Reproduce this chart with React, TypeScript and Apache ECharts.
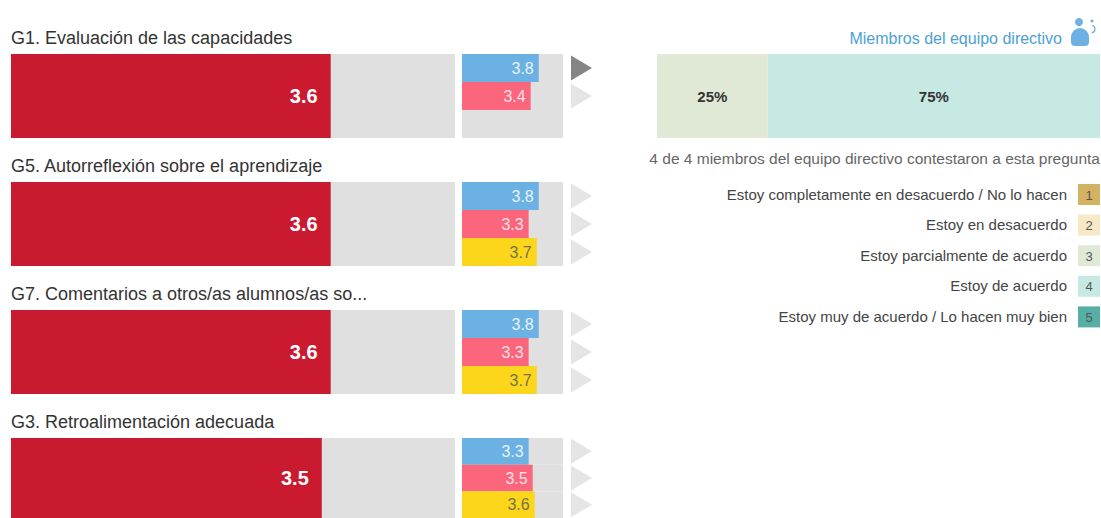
import React, { useEffect, useRef } from "react";
import * as echarts from "echarts";

const titles = [
  "G1. Evaluación de las capacidades",
  "G5. Autorreflexión sobre el aprendizaje",
  "G7. Comentarios a otros/as alumnos/as so...",
  "G3. Retroalimentación adecuada",
];
const mainValues = [3.6, 3.6, 3.6, 3.5];
const blueValues = [3.8, 3.8, 3.8, 3.3];
const pinkValues = [3.4, 3.3, 3.3, 3.5];
const yellowValues: (number | null)[] = [null, 3.7, 3.7, 3.6];
const slotNames = ["a", "b", "c"];
const stackShares = [25, 75];
const stackColors = ["#e0e8d6", "#c6eae3"];
const legendLabels = [
  "Estoy completamente en desacuerdo / No lo hacen",
  "Estoy en desacuerdo",
  "Estoy parcialmente de acuerdo",
  "Estoy de acuerdo",
  "Estoy muy de acuerdo / Lo hacen muy bien",
];
const legendKeys = ["1", "2", "3", "4", "5"];
const legendColors = ["#d4b263", "#f7e9c6", "#e0e8d6", "#c6eae3", "#56aea4"];
const headerLabel = "Miembros del equipo directivo";
const answeredLabel = "4 de 4 miembros del equipo directivo contestaron a esta pregunta";

const FONT = "'Liberation Sans', Arial, sans-serif";
const ROW_TOP = 54;
const ROW_STEP = 128;
const ROW_H = 84;

function buildOption() {
  const grid: any[] = [];
  const xAxis: any[] = [];
  const yAxis: any[] = [];
  const series: any[] = [];
  const addGrid = (left: number, width: number, top: number, height: number, max: number, cats: string[]) => {
    const i = grid.length;
    grid.push({ left, width, top, height, containLabel: false });
    xAxis.push({ type: "value", gridIndex: i, min: 0, max, show: false });
    yAxis.push({ type: "category", gridIndex: i, data: cats, inverse: true, show: false });
    return i;
  };
  titles.forEach((_, r) => {
    const top = ROW_TOP + r * ROW_STEP;
    const g = addGrid(11, 444, top, ROW_H, 5, ["m"]);
    series.push({
      type: "bar", xAxisIndex: g, yAxisIndex: g, data: [mainValues[r]], barWidth: "100%",
      itemStyle: { color: "#c91a30" }, showBackground: true, backgroundStyle: { color: "#e0e0e0" },
      label: { show: true, position: "insideRight", distance: 13, color: "#fff", fontFamily: FONT, fontSize: 20, fontWeight: "bold", formatter: (p: any) => p.value.toFixed(1) },
    });
    const s = addGrid(462, 101, top, ROW_H, 5, slotNames);
    const vals = [blueValues[r], pinkValues[r], yellowValues[r]];
    const cols = ["#6bb1e3", "#fc667c", "#fbd61b"];
    const txt = ["#e8f3fb", "#fde3e7", "#77704a"];
    series.push({
      type: "bar", xAxisIndex: s, yAxisIndex: s, barWidth: "100%",
      data: vals.map((v, k) => ({
        value: v == null ? "-" : v,
        itemStyle: { color: cols[k] },
        label: { color: txt[k] },
      })),
      showBackground: true, backgroundStyle: { color: "#e0e0e0" },
      label: { show: true, position: "insideRight", distance: 5, fontFamily: FONT, fontSize: 16, formatter: (p: any) => p.value.toFixed(1) },
    });
    const t = addGrid(571, 21, top, ROW_H, 1, slotNames);
    series.push({
      type: "scatter", xAxisIndex: t, yAxisIndex: t, symbol: "triangle", symbolRotate: -90, symbolSize: [25, 21],
      data: vals.map((v, k) => v == null ? ["-", k] : ({
        value: [0.5, k],
        itemStyle: { color: r === 0 && k === 0 ? "#666666" : "#dedede" },
      })),
    });
  });
  const st = addGrid(657, 443, ROW_TOP, ROW_H, 100, ["s"]);
  stackShares.forEach((v, k) => {
    series.push({
      type: "bar", stack: "s", xAxisIndex: st, yAxisIndex: st, data: [v], barWidth: "100%",
      itemStyle: { color: stackColors[k] },
      label: { show: true, position: "inside", color: "#333", fontFamily: FONT, fontSize: 15, fontWeight: "bold", formatter: (p: any) => p.value + "%" },
    });
  });

  const graphic: any[] = [];
  titles.forEach((t, r) => {
    graphic.push({ type: "text", x: 11, y: 38 + r * ROW_STEP, style: { text: t, font: `18px ${FONT}`, fill: "#333", textVerticalAlign: "middle" } });
  });
  graphic.push({ type: "text", x: 1062, y: 38, style: { text: headerLabel, font: `16px ${FONT}`, fill: "#4da1d6", textAlign: "right", textVerticalAlign: "middle" } });
  graphic.push({ type: "text", x: 1100, y: 158, style: { text: answeredLabel, font: `15.5px ${FONT}`, fill: "#666", textAlign: "right", textVerticalAlign: "middle" } });
  legendLabels.forEach((l, k) => {
    const y = 184 + k * 30.6;
    graphic.push({ type: "rect", shape: { x: 1078, y, width: 22, height: 21 }, style: { fill: legendColors[k] } });
    graphic.push({ type: "text", x: 1089, y: y + 11, style: { text: legendKeys[k], font: `13px ${FONT}`, fill: "#555", textAlign: "center", textVerticalAlign: "middle" } });
    graphic.push({ type: "text", x: 1067, y: y + 10, style: { text: l, font: `15px ${FONT}`, fill: "#444", textAlign: "right", textVerticalAlign: "middle" } });
  });
  graphic.push({ type: "circle", shape: { cx: 1079, cy: 22, r: 4 }, style: { fill: "#6bb1e3" } });
  graphic.push({ type: "rect", shape: { x: 1071, y: 28, width: 18, height: 18, r: [9, 9, 4, 4] }, style: { fill: "#6bb1e3" } });
  graphic.push({ type: "circle", shape: { cx: 1092, cy: 21, r: 1.5 }, style: { fill: "#6bb1e3" } });
  graphic.push({ type: "arc", shape: { cx: 1091, cy: 29, r: 4, startAngle: -1.2, endAngle: 1.4 }, style: { stroke: "#6bb1e3", lineWidth: 1.2, fill: "none" } });

  return { animation: false, backgroundColor: "#fff", grid, xAxis, yAxis, series, graphic };
}

export default function App() {
  const ref = useRef<HTMLDivElement>(null);
  useEffect(() => {
    document.body.style.margin = "0";
    document.body.style.overflow = "hidden";
    const chart = echarts.init(ref.current!, undefined, { renderer: "svg" });
    chart.setOption(buildOption());
    return () => chart.dispose();
  }, []);
  return <div ref={ref} style={{ width: 1101, height: 518 }} />;
}
